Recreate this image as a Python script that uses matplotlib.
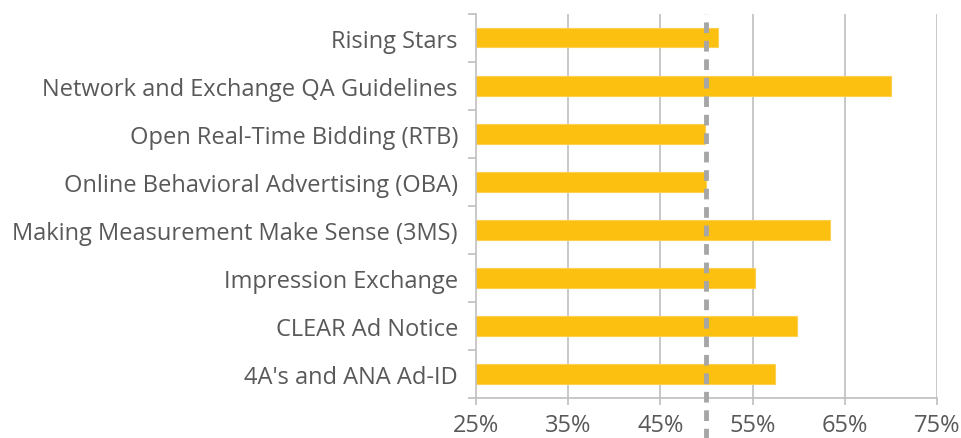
import matplotlib.pyplot as plt
import numpy as np
from matplotlib.ticker import FuncFormatter

categories = ["Rising Stars", "Network and Exchange QA Guidelines",
              "Open Real-Time Bidding (RTB)", "Online Behavioral Advertising (OBA)",
              "Making Measurement Make Sense (3MS)", "Impression Exchange",
              "CLEAR Ad Notice", "4A's and ANA Ad-ID"]
values = [51.3, 70.0, 49.8, 49.9, 63.4, 55.3, 59.8, 57.4]
xticks = [25, 35, 45, 55, 65, 75]
ref_line = 50

plt.rcParams['font.family'] = ['Open Sans', 'DejaVu Sans']
txt = '#595959'
grid = '#BFBFBF'

fig = plt.figure(figsize=(9.62, 4.39), dpi=100)
ax = fig.add_axes([0.4948, 0.0911, 0.4792, 0.875])

y = np.arange(len(categories))[::-1]
ax.barh(y, [v - 25 for v in values], left=25, height=0.4,
        color='#FCC010', edgecolor='#FDD050', linewidth=0.8, zorder=2)

ax.set_xlim(25, 75)
ax.set_ylim(-0.5, len(categories) - 0.5)
ax.set_xticks(xticks)
ax.xaxis.set_major_formatter(FuncFormatter(lambda v, p: '%d%%' % v))
ax.set_yticks(y)
ax.set_yticklabels(categories)
ax.set_yticks(np.arange(-0.5, len(categories)), minor=True)

for x in xticks[1:]:
    ax.axvline(x, color=grid, linewidth=1.2, zorder=1)

# dashed reference line at 50%
ax.axvline(ref_line, ymin=-0.11, ymax=1.0, color='#A6A6A6', linewidth=3.5,
           linestyle=(0, (2.2, 1.6)), clip_on=False, zorder=3)

for s in ['top', 'right']:
    ax.spines[s].set_visible(False)
for s in ['left', 'bottom']:
    ax.spines[s].set_color(grid)
    ax.spines[s].set_linewidth(1.2)

ax.tick_params(axis='y', which='major', length=0, pad=13, labelsize=17, labelcolor=txt)
ax.tick_params(axis='y', which='minor', length=6, color=grid, width=1.2)
ax.tick_params(axis='x', length=5, color=grid, width=1.2, pad=6, labelsize=17, labelcolor=txt)

fig.savefig('out.png', dpi=100)
